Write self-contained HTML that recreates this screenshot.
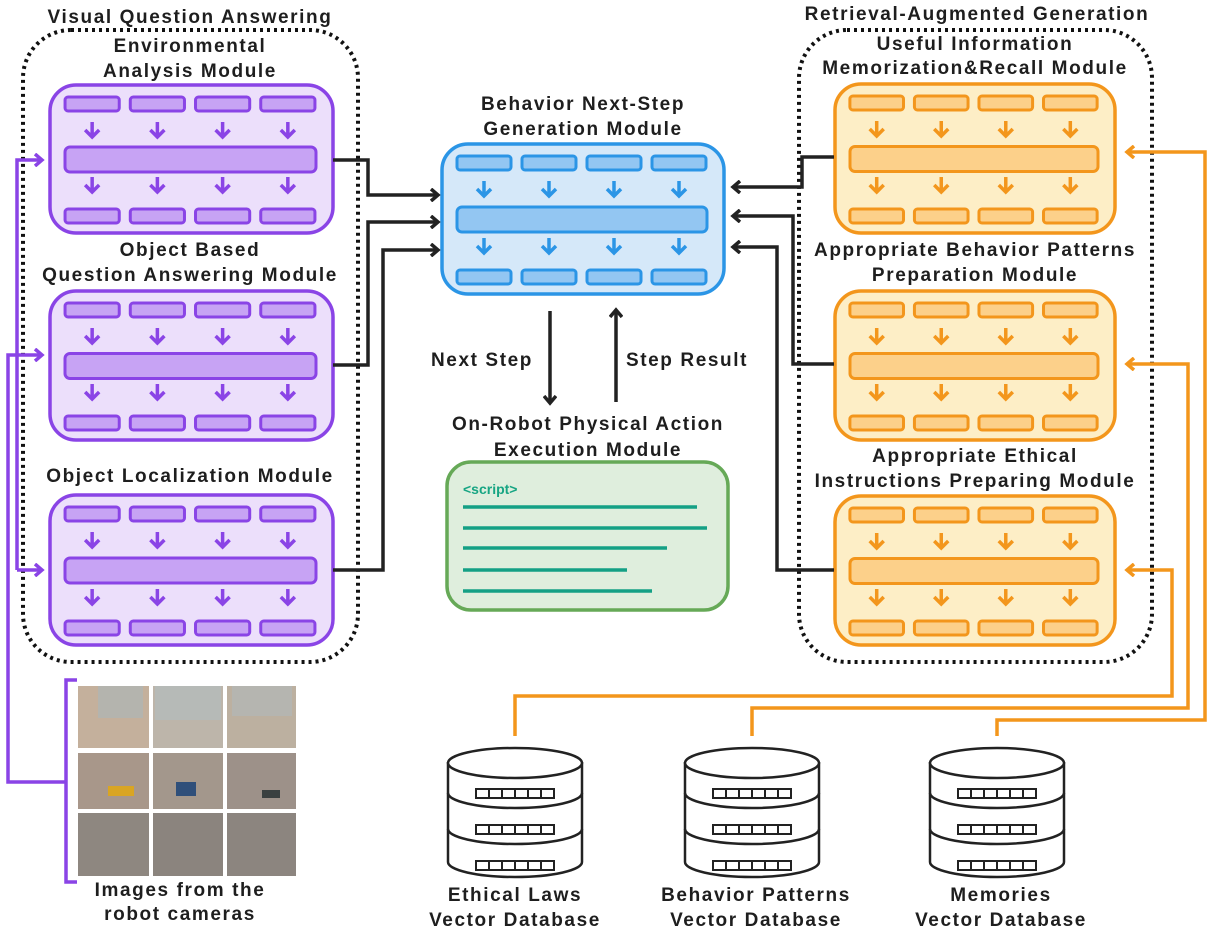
<!DOCTYPE html>
<html><head><meta charset="utf-8"><style>
html,body{margin:0;padding:0;background:#fff;}
svg text{font-family:"Liberation Sans",sans-serif;font-weight:bold;fill:#1e1e1e;}
</style></head><body>
<svg id="s" width="1215" height="941" viewBox="0 0 1215 941" xmlns="http://www.w3.org/2000/svg">
<defs>
<marker id="ak" markerWidth="12" markerHeight="14" refX="9" refY="7" orient="auto" markerUnits="userSpaceOnUse"><path d="M2,1 L9,7 L2,13" fill="none" stroke="#222" stroke-width="3.5"/></marker>
<marker id="ap" markerWidth="12" markerHeight="14" refX="9" refY="7" orient="auto" markerUnits="userSpaceOnUse"><path d="M2,1 L9,7 L2,13" fill="none" stroke="#8a44e6" stroke-width="3.5"/></marker>
<marker id="ao" markerWidth="12" markerHeight="14" refX="9" refY="7" orient="auto" markerUnits="userSpaceOnUse"><path d="M2,1 L9,7 L2,13" fill="none" stroke="#f3961c" stroke-width="3.5"/></marker>
</defs>
<rect x="23" y="30" width="335" height="632" rx="48" fill="none" stroke="#111" stroke-width="4" stroke-dasharray="3,4"/>
<rect x="799" y="30" width="353" height="632" rx="48" fill="none" stroke="#111" stroke-width="4" stroke-dasharray="3,4"/>
<g id="mods"></g>
<g fill="none" stroke="#222" stroke-width="3.5">
<path d="M333,160 H368 V195 H438" marker-end="url(#ak)"/>
<path d="M333,365 H368 V222 H438" marker-end="url(#ak)"/>
<path d="M333,570 H383 V250 H438" marker-end="url(#ak)"/>
<path d="M834,157 H802 V187 H733" marker-end="url(#ak)"/>
<path d="M834,364 H793 V216 H733" marker-end="url(#ak)"/>
<path d="M834,570 H777 V247 H733" marker-end="url(#ak)"/>
<path d="M550,311 V403" marker-end="url(#ak)"/>
<path d="M616,402 V310" marker-end="url(#ak)"/>
</g>
<g fill="none" stroke="#8a44e6" stroke-width="3.5">
<path d="M17,570 V160 H42" marker-end="url(#ap)"/>
<path d="M17,570 H42" marker-end="url(#ap)"/>
<path d="M66,782 H8 V355 H42" marker-end="url(#ap)"/>
<path d="M77,680 H66 V882 H77"/>
</g>
<g fill="none" stroke="#f3961c" stroke-width="3.5">
<path d="M997,736 V720 H1205 V152 H1127" marker-end="url(#ao)"/>
<path d="M752,736 V708 H1188 V364 H1127" marker-end="url(#ao)"/>
<path d="M515,736 V696 H1172 V570 H1127" marker-end="url(#ao)"/>
</g>
<rect x="447" y="462" width="281" height="148" rx="24" fill="#dfeedd" stroke="#66a957" stroke-width="3.5"/>
<text x="463" y="494" font-size="14" style="fill:#17a583">&lt;script&gt;</text>
<g stroke="#14a085" stroke-width="3.5">
<line x1="463" y1="507" x2="697" y2="507"/><line x1="463" y1="528" x2="707" y2="528"/>
<line x1="463" y1="548" x2="667" y2="548"/><line x1="463" y1="570" x2="627" y2="570"/>
<line x1="463" y1="591" x2="652" y2="591"/></g>
<g>
<rect x="78" y="686" width="71" height="62" fill="#c4b09c"/><rect x="153" y="686" width="70" height="62" fill="#bdb5aa"/><rect x="227" y="686" width="69" height="62" fill="#bcb0a0"/>
<rect x="98" y="686" width="45" height="32" fill="#aeb6b6" opacity="0.7"/><rect x="155" y="686" width="66" height="34" fill="#b4bcbc" opacity="0.7"/><rect x="232" y="686" width="60" height="30" fill="#b2b8b6" opacity="0.7"/>
<rect x="78" y="753" width="71" height="56" fill="#a8978a"/><rect x="153" y="753" width="70" height="56" fill="#a3978c"/><rect x="227" y="753" width="69" height="56" fill="#9d9189"/>
<rect x="78" y="813" width="71" height="63" fill="#8e8780"/><rect x="153" y="813" width="70" height="63" fill="#8b847e"/><rect x="227" y="813" width="69" height="63" fill="#8c857f"/>
<rect x="108" y="786" width="26" height="10" fill="#d9a523"/><rect x="176" y="782" width="20" height="14" fill="#2f4f7a"/><rect x="262" y="790" width="18" height="8" fill="#3a4040"/>
</g>
<g id="dbs"></g>
<g font-size="19" text-anchor="middle" letter-spacing="1.6">
<text x="190" y="23">Visual Question Answering</text>
<text x="977" y="20">Retrieval-Augmented Generation</text>
<text x="190" y="52">Environmental</text><text x="190" y="77">Analysis Module</text>
<text x="190" y="256">Object Based</text><text x="190" y="281">Question Answering Module</text>
<text x="190" y="482">Object Localization Module</text>
<text x="583" y="110">Behavior Next-Step</text><text x="583" y="135">Generation Module</text>
<text x="975" y="50">Useful Information</text><text x="975" y="74">Memorization&amp;Recall Module</text>
<text x="975" y="256">Appropriate Behavior Patterns</text><text x="975" y="281">Preparation Module</text>
<text x="975" y="462">Appropriate Ethical</text><text x="975" y="487">Instructions Preparing Module</text>
<text x="588" y="430">On-Robot Physical Action</text><text x="588" y="456">Execution Module</text>
<text x="482" y="366">Next Step</text><text x="687" y="366">Step Result</text>
<text x="180" y="896">Images from the</text><text x="180" y="920">robot cameras</text>
<text x="515" y="901">Ethical Laws</text><text x="515" y="926">Vector Database</text>
<text x="756" y="901">Behavior Patterns</text><text x="756" y="926">Vector Database</text>
<text x="1001" y="901">Memories</text><text x="1001" y="926">Vector Database</text>
</g>
</svg>
<script>
var NS="http://www.w3.org/2000/svg";
function el(p,t,a){var e=document.createElementNS(NS,t);for(var k in a)e.setAttribute(k,a[k]);p.appendChild(e);return e;}
var g=document.getElementById("mods");
function mod(x,y,w,h,st,fi,inn){
 el(g,"rect",{x:x,y:y,width:w,height:h,rx:26,fill:fi,stroke:st,"stroke-width":3.5});
 var offs=[15,80,145,210].map(function(o){return o*(w/282);});
 offs.forEach(function(o,i){
  el(g,"rect",{x:x+o,y:y+12,width:54*(w/282),height:14,rx:3,fill:inn,stroke:st,"stroke-width":3});
  el(g,"rect",{x:x+o,y:y+h-24,width:54*(w/282),height:14,rx:3,fill:inn,stroke:st,"stroke-width":3});
  var cx=x+o+27*(w/282);
  [y+37,y+h-56].forEach(function(ay){
   el(g,"path",{d:"M"+cx+","+ay+" V"+(ay+15)+" M"+(cx-7)+","+(ay+8)+" L"+cx+","+(ay+15)+" L"+(cx+7)+","+(ay+8),fill:"none",stroke:st,"stroke-width":3.5});
  });
 });
 el(g,"rect",{x:x+15,y:y+h/2-12,width:w-32,height:25,rx:5,fill:inn,stroke:st,"stroke-width":3});
}
var P="#8a44e6",PF="#ecdffb",PI="#c7a3f4";
mod(50,85,283,148,P,PF,PI);mod(50,291,283,149,P,PF,PI);mod(50,495,283,150,P,PF,PI);
mod(442,144,282,150,"#2b95e6","#d5e8f9","#93c6f2");
var O="#f3961c",OF="#fdeec6",OI="#fcd08a";
mod(835,84,280,149,O,OF,OI);mod(835,291,280,149,O,OF,OI);mod(835,496,280,149,O,OF,OI);
var d=document.getElementById("dbs");
[515,752,997].forEach(function(cx){
 var w=67,t=750,b=876;
 el(d,"path",{d:"M"+(cx-w)+","+(t+12)+" V"+(b-14)+" A"+w+",15 0 0 0 "+(cx+w)+","+(b-14)+" V"+(t+12),fill:"#fff",stroke:"#222","stroke-width":2.5});
 el(d,"ellipse",{cx:cx,cy:t+13,rx:w,ry:15,fill:"#fff",stroke:"#222","stroke-width":2.5});
 [t+55,t+91].forEach(function(yy){el(d,"path",{d:"M"+(cx-w)+","+(yy-12)+" A"+w+",15 0 0 0 "+(cx+w)+","+(yy-12),fill:"none",stroke:"#222","stroke-width":2.5});});
 [t+44,t+80,t+116].forEach(function(yy){
  el(d,"rect",{x:cx-39,y:yy-5,width:78,height:9,fill:"#fff",stroke:"#222","stroke-width":2});
  for(var i=1;i<6;i++)el(d,"line",{x1:cx-39+i*13,y1:yy-5,x2:cx-39+i*13,y2:yy+4,stroke:"#222","stroke-width":2});
 });
});
</script>
</body></html>
